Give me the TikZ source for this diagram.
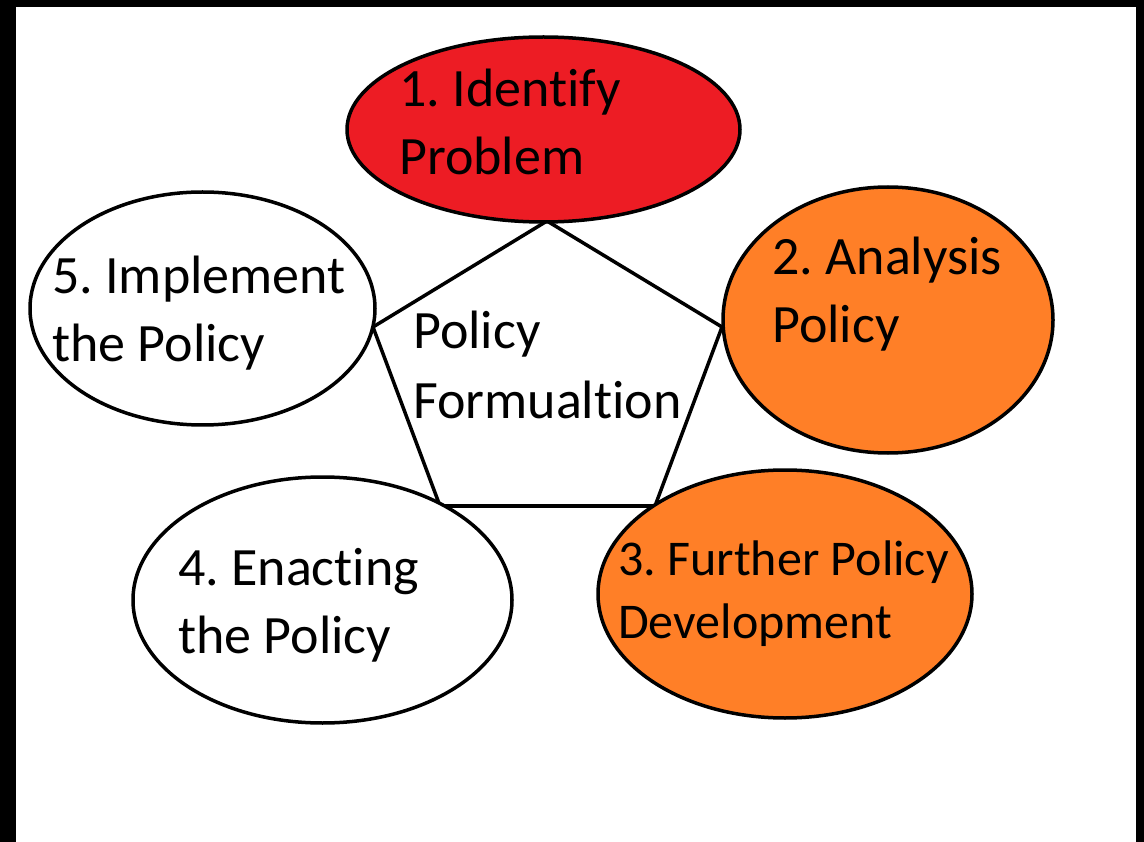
\documentclass[tikz,border=0pt]{standalone}
\usepackage{fontspec}
\setmainfont{Carlito}[Ligatures=NoCommon]
\frenchspacing
\usetikzlibrary{shapes.geometric}
\definecolor{paintred}{HTML}{ED1C24}
\definecolor{paintorange}{HTML}{FF7F27}
\tikzset{
  stage/.style={ellipse, draw=black, line width=3.5pt, inner sep=0pt},
  stagetext/.style={anchor=base west, align=left, inner sep=0pt, font=\fontsize{54}{68}\selectfont}
}
\begin{document}
\begin{tikzpicture}[line cap=round,line join=round,x=1pt,y=-1pt]
    \useasboundingbox (0,0) rectangle (1144,842);
    % Frame
    \fill[black] (0,0) rectangle (1144,842);
    \fill[white] (16,7) rectangle (1136,842);

    % Pentagon corners
    \coordinate (p1) at (547,221);
    \coordinate (p2) at (722,327);
    \coordinate (p3) at (655,506);
    \coordinate (p4) at (440,506);
    \coordinate (p5) at (373,327);

    % Pentagon edges
    \foreach \source/\target in {p1/p2, p2/p3, p3/p4, p4/p5, p5/p1} {
            \draw[black, line width=3.5pt] (\source) -- (\target);
        }

    % Stages
    \node[stage, fill=paintred, minimum width=393, minimum height=185] (E1) at (543.5,129.5) {};
    \node[stage, fill=paintorange, minimum width=330, minimum height=266] (E2) at (888,320) {};
    \node[stage, fill=paintorange, minimum width=374, minimum height=248] (E3) at (785,594) {};
    \node[stage, fill=white, minimum width=379, minimum height=246] (E4) at (322.5,600) {};
    \node[stage, fill=white, minimum width=345, minimum height=233] (E5) at (202.5,308.5) {};

    % Texts (anchored at the last line)
    \node[stagetext] (T1) at (399,175) {1. Identify\\Problem};
    \node[stagetext] (T2) at (772,343) {2. Analysis\\Policy};
    \node[stagetext, font=\fontsize{50}{63}\selectfont] (T3) at (618,638) {3. Further Policy\\Development};
    \node[stagetext] (T4) at (178,653) {4. Enacting\\the Policy};
    \node[stagetext] (T5) at (52,362) {5. Implement\\the Policy};
    \node[stagetext, font=\fontsize{54}{70}\selectfont] (T0) at (413,418) {Policy\\Formualtion};
\end{tikzpicture}
\end{document}
